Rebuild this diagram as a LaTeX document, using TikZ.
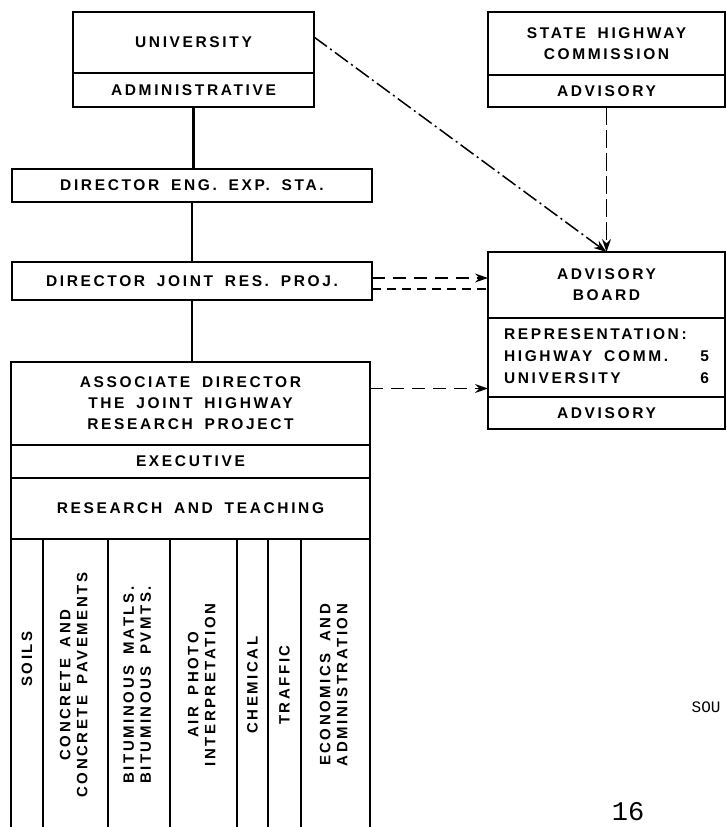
\documentclass[tikz,border=0pt]{standalone}
\usepackage{fontspec}
\usepackage{graphicx}
\setmainfont{Liberation Serif}
\newfontfamily\chartfont{Liberation Sans}[LetterSpace=17,WordSpace=1.7]
\newfontfamily\typefont{Liberation Mono}
\usetikzlibrary{arrows.meta,positioning}

\begin{document}
\begin{tikzpicture}[x=1pt,y=-1pt,node distance=0pt,
                    font=\chartfont\bfseries\fontsize{15.5}{21}\selectfont]
  \tikzstyle{box}=[draw,line width=2.6pt,inner sep=0pt,outer sep=0pt,align=center]
  \tikzstyle{col}=[box,anchor=north west,minimum height=292pt,
                   font=\chartfont\bfseries\fontsize{15}{17}\selectfont]
  \tikzstyle{solidline}=[line width=2.6pt]
  \tikzstyle{tip}=[-{Stealth[length=13pt,width=9pt,line width=0pt]}]
  \tikzstyle{dashdot}=[tip,line width=1.5pt,dash pattern=on 16pt off 4pt on 2pt off 4pt]
  \tikzstyle{longdash}=[tip,line width=1.8pt,dash pattern=on 18pt off 5pt]
  \tikzstyle{thindash}=[tip,line width=1.3pt,dash pattern=on 13pt off 8pt]
  \tikzstyle{thickdash}=[line width=2.6pt,dash pattern=on 9pt off 6pt]

  \useasboundingbox (0,0) rectangle (726,827);

  \node[box,anchor=north west,minimum width=241pt,minimum height=61pt] (univ) at (73,12) {UNIVERSITY};
  \node[box,minimum width=241pt,minimum height=34pt] (univadm) [below=of univ] {ADMINISTRATIVE};
  \node[box,anchor=north west,minimum width=360pt,minimum height=33pt] (eng) at (12,169) {DIRECTOR ENG. EXP. STA.};
  \node[box,anchor=north west,minimum width=360pt,minimum height=38pt] (joint) at (12,262) {DIRECTOR JOINT RES. PROJ.};
  \node[box,anchor=north west,minimum width=359pt,minimum height=83pt] (assoc) at (11,362)
       {ASSOCIATE DIRECTOR\\THE JOINT HIGHWAY\\RESEARCH PROJECT};
  \node[box,minimum width=359pt,minimum height=33pt] (exec)  [below=of assoc] {EXECUTIVE};
  \node[box,minimum width=359pt,minimum height=61pt] (teach) [below=of exec]  {RESEARCH AND TEACHING};

  \node[col,minimum width=32pt] (soils) at (teach.south west)
       {\rotatebox{90}{\hspace*{52pt}SOILS}};
  \node[col,minimum width=65pt] (concrete) [right=of soils]
       {\rotatebox{90}{\begin{tabular}{@{}c@{}}CONCRETE AND\\CONCRETE PAVEMENTS\end{tabular}}};
  \node[col,minimum width=62pt] (bitum) [right=of concrete]
       {\rotatebox{90}{\begin{tabular}{@{}c@{}}BITUMINOUS MATLS.\\BITUMINOUS PVMTS.\end{tabular}}};
  \node[col,minimum width=67pt] (photo) [right=of bitum]
       {\rotatebox{90}{\begin{tabular}{@{}c@{}}AIR PHOTO\\INTERPRETATION\end{tabular}}};
  \node[col,minimum width=31pt] (chem) [right=of photo] {\rotatebox{90}{CHEMICAL}};
  \node[col,minimum width=33pt] (traffic) [right=of chem] {\rotatebox{90}{TRAFFIC}};
  \node[col,minimum width=69pt] (econ) [right=of traffic]
       {\rotatebox{90}{\begin{tabular}{@{}c@{}}ECONOMICS AND\\ADMINISTRATION\end{tabular}}};

  \node[box,anchor=north west,minimum width=237pt,minimum height=63pt] (state) at (488,12)
       {STATE HIGHWAY\\COMMISSION};
  \node[box,minimum width=237pt,minimum height=32pt] (stateadv) [below=of state] {ADVISORY};
  \node[box,anchor=north west,minimum width=237pt,minimum height=66pt] (board) at (488,252)
       {ADVISORY\\BOARD};
  \node[box,minimum width=237pt,minimum height=79pt,font=\chartfont\bfseries\fontsize{15.5}{22}\selectfont]
       (boardrep) [below=of board]
       {\begin{tabular*}{205pt}{@{}l@{\extracolsep{\fill}}r@{}}
        REPRESENTATION: & \\ HIGHWAY COMM. & 5\\ UNIVERSITY & 6
        \end{tabular*}};
  \node[box,minimum width=237pt,minimum height=32pt] (boardadv) [below=of boardrep] {ADVISORY};

  \node[font=\typefont\fontsize{16}{19}\selectfont,anchor=east] (source) at (724,707) {SOU};
  \node[font=\typefont\fontsize{27}{30}\selectfont] (page) at (628,812) {16};

  \coordinate (univout)  at ([yshift=-25pt]univ.north east);
  \coordinate (jointhi)  at ([yshift=3pt]joint.east);
  \coordinate (jointlo)  at ([yshift=-8pt]joint.east);
  \coordinate (assocout) at ([yshift=15pt]assoc.east);

  \path (univadm.south)  edge [solidline] (univadm.south |- eng.north)
        (eng.south)      edge [solidline] (eng.south |- joint.north)
        (joint.south)    edge [solidline] (joint.south |- assoc.north)
        (univout)        edge [dashdot]   (board.north)
        (stateadv.south) edge [longdash]  (board.north)
        (jointhi)        edge [thindash]  (jointhi -| board.west)
        (jointlo)        edge [thickdash] (jointlo -| board.west)
        (assocout)       edge [thindash]  (assocout -| boardrep.west);
\end{tikzpicture}
\end{document}
